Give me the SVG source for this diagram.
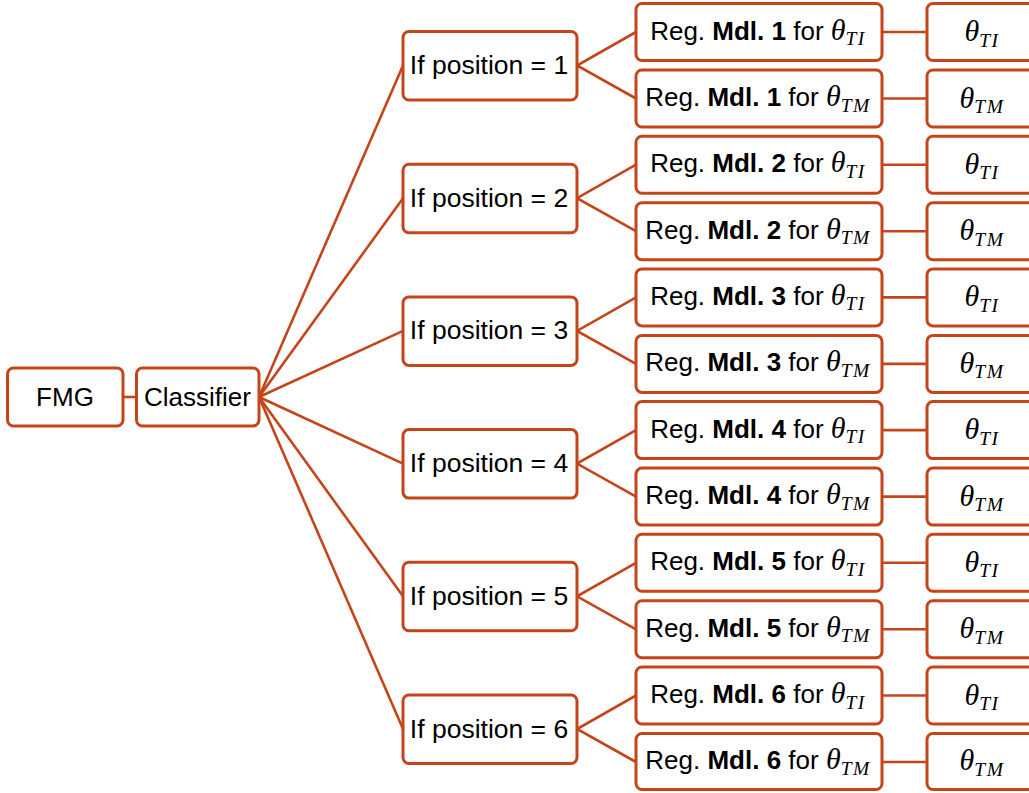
<svg xmlns="http://www.w3.org/2000/svg" width="1029" height="793" viewBox="0 0 1029 793">
<style>
.box{fill:#fff;stroke:#C5451B;stroke-width:3}
.ln{stroke:#C5451B;stroke-width:2.6;fill:none}
.t{font-family:"Liberation Sans",Arial,sans-serif;font-size:26px;fill:#000;text-anchor:middle}
.tp{font-size:26.5px}
.b{font-weight:bold}
.m{font-family:"Liberation Serif","Times New Roman",serif;font-style:italic}
.th{font-size:30px}
.sb{font-size:19.5px;letter-spacing:1.5px}
</style>
<rect width="1029" height="793" fill="#fff"/>
<g id="connectors">
<line class="ln" x1="123" y1="397" x2="136" y2="397"/>
<line class="ln" x1="259" y1="397" x2="403" y2="65.5"/>
<line class="ln" x1="259" y1="397" x2="403" y2="198.2"/>
<line class="ln" x1="259" y1="397" x2="403" y2="330.9"/>
<line class="ln" x1="259" y1="397" x2="403" y2="463.6"/>
<line class="ln" x1="259" y1="397" x2="403" y2="596.3"/>
<line class="ln" x1="259" y1="397" x2="403" y2="729"/>
<path class="ln" d="M636 32 L577 65.5 L636 98.5"/>
<path class="ln" d="M636 164.7 L577 198.2 L636 231.2"/>
<path class="ln" d="M636 297.4 L577 330.9 L636 363.9"/>
<path class="ln" d="M636 430.1 L577 463.6 L636 496.6"/>
<path class="ln" d="M636 562.8 L577 596.3 L636 629.3"/>
<path class="ln" d="M636 695.5 L577 729 L636 762"/>
<line class="ln" x1="882" y1="32" x2="927" y2="32"/>
<line class="ln" x1="882" y1="98.5" x2="927" y2="98.5"/>
<line class="ln" x1="882" y1="164.7" x2="927" y2="164.7"/>
<line class="ln" x1="882" y1="231.2" x2="927" y2="231.2"/>
<line class="ln" x1="882" y1="297.4" x2="927" y2="297.4"/>
<line class="ln" x1="882" y1="363.9" x2="927" y2="363.9"/>
<line class="ln" x1="882" y1="430.1" x2="927" y2="430.1"/>
<line class="ln" x1="882" y1="496.6" x2="927" y2="496.6"/>
<line class="ln" x1="882" y1="562.8" x2="927" y2="562.8"/>
<line class="ln" x1="882" y1="629.3" x2="927" y2="629.3"/>
<line class="ln" x1="882" y1="695.5" x2="927" y2="695.5"/>
<line class="ln" x1="882" y1="762" x2="927" y2="762"/>
</g>
<g id="fmg"><rect class="box" x="7.5" y="368" width="115.5" height="58" rx="6"/><text class="t" x="65" y="406">FMG</text></g>
<g id="classifier"><rect class="box" x="136.5" y="368" width="122.5" height="58" rx="6"/><text class="t" x="197.5" y="406">Classifier</text></g>

<g id="pos1"><rect class="box" x="403" y="31.5" width="174" height="68.5" rx="6"/><text class="t tp" x="489" y="74">If position = 1</text></g>
<g id="pos2"><rect class="box" x="403" y="164.2" width="174" height="68.5" rx="6"/><text class="t tp" x="489" y="206.7">If position = 2</text></g>
<g id="pos3"><rect class="box" x="403" y="296.9" width="174" height="68.5" rx="6"/><text class="t tp" x="489" y="339.4">If position = 3</text></g>
<g id="pos4"><rect class="box" x="403" y="429.6" width="174" height="68.5" rx="6"/><text class="t tp" x="489" y="472.1">If position = 4</text></g>
<g id="pos5"><rect class="box" x="403" y="562.3" width="174" height="68.5" rx="6"/><text class="t tp" x="489" y="604.8">If position = 5</text></g>
<g id="pos6"><rect class="box" x="403" y="695" width="174" height="68.5" rx="6"/><text class="t tp" x="489" y="737.5">If position = 6</text></g>

<g id="reg1ti"><rect class="box" x="636" y="3.5" width="246" height="57" rx="6"/><text class="t" x="758" y="39.5">Reg. <tspan class="b">Mdl. 1</tspan> for <tspan class="m th">θ</tspan><tspan class="m sb" dy="5.5">TI</tspan></text></g>
<g id="reg1tm"><rect class="box" x="636" y="70" width="246" height="57" rx="6"/><text class="t" x="758" y="106">Reg. <tspan class="b">Mdl. 1</tspan> for <tspan class="m th">θ</tspan><tspan class="m sb" dy="5.5">TM</tspan></text></g>
<g id="reg2ti"><rect class="box" x="636" y="136.2" width="246" height="57" rx="6"/><text class="t" x="758" y="172.2">Reg. <tspan class="b">Mdl. 2</tspan> for <tspan class="m th">θ</tspan><tspan class="m sb" dy="5.5">TI</tspan></text></g>
<g id="reg2tm"><rect class="box" x="636" y="202.7" width="246" height="57" rx="6"/><text class="t" x="758" y="238.7">Reg. <tspan class="b">Mdl. 2</tspan> for <tspan class="m th">θ</tspan><tspan class="m sb" dy="5.5">TM</tspan></text></g>
<g id="reg3ti"><rect class="box" x="636" y="268.9" width="246" height="57" rx="6"/><text class="t" x="758" y="304.9">Reg. <tspan class="b">Mdl. 3</tspan> for <tspan class="m th">θ</tspan><tspan class="m sb" dy="5.5">TI</tspan></text></g>
<g id="reg3tm"><rect class="box" x="636" y="335.4" width="246" height="57" rx="6"/><text class="t" x="758" y="371.4">Reg. <tspan class="b">Mdl. 3</tspan> for <tspan class="m th">θ</tspan><tspan class="m sb" dy="5.5">TM</tspan></text></g>
<g id="reg4ti"><rect class="box" x="636" y="401.6" width="246" height="57" rx="6"/><text class="t" x="758" y="437.6">Reg. <tspan class="b">Mdl. 4</tspan> for <tspan class="m th">θ</tspan><tspan class="m sb" dy="5.5">TI</tspan></text></g>
<g id="reg4tm"><rect class="box" x="636" y="468.1" width="246" height="57" rx="6"/><text class="t" x="758" y="504.1">Reg. <tspan class="b">Mdl. 4</tspan> for <tspan class="m th">θ</tspan><tspan class="m sb" dy="5.5">TM</tspan></text></g>
<g id="reg5ti"><rect class="box" x="636" y="534.3" width="246" height="57" rx="6"/><text class="t" x="758" y="570.3">Reg. <tspan class="b">Mdl. 5</tspan> for <tspan class="m th">θ</tspan><tspan class="m sb" dy="5.5">TI</tspan></text></g>
<g id="reg5tm"><rect class="box" x="636" y="600.8" width="246" height="57" rx="6"/><text class="t" x="758" y="636.8">Reg. <tspan class="b">Mdl. 5</tspan> for <tspan class="m th">θ</tspan><tspan class="m sb" dy="5.5">TM</tspan></text></g>
<g id="reg6ti"><rect class="box" x="636" y="667" width="246" height="57" rx="6"/><text class="t" x="758" y="703">Reg. <tspan class="b">Mdl. 6</tspan> for <tspan class="m th">θ</tspan><tspan class="m sb" dy="5.5">TI</tspan></text></g>
<g id="reg6tm"><rect class="box" x="636" y="733.5" width="246" height="56" rx="6"/><text class="t" x="758" y="769">Reg. <tspan class="b">Mdl. 6</tspan> for <tspan class="m th">θ</tspan><tspan class="m sb" dy="5.5">TM</tspan></text></g>

<g id="out1ti"><rect class="box" x="927" y="3.5" width="112" height="57" rx="6"/><text class="t" x="982" y="41"><tspan class="m th">θ</tspan><tspan class="m sb" dy="5.5">TI</tspan></text></g>
<g id="out1tm"><rect class="box" x="927" y="70" width="112" height="57" rx="6"/><text class="t" x="982" y="107.5"><tspan class="m th">θ</tspan><tspan class="m sb" dy="5.5">TM</tspan></text></g>
<g id="out2ti"><rect class="box" x="927" y="136.2" width="112" height="57" rx="6"/><text class="t" x="982" y="173.7"><tspan class="m th">θ</tspan><tspan class="m sb" dy="5.5">TI</tspan></text></g>
<g id="out2tm"><rect class="box" x="927" y="202.7" width="112" height="57" rx="6"/><text class="t" x="982" y="240.2"><tspan class="m th">θ</tspan><tspan class="m sb" dy="5.5">TM</tspan></text></g>
<g id="out3ti"><rect class="box" x="927" y="268.9" width="112" height="57" rx="6"/><text class="t" x="982" y="306.4"><tspan class="m th">θ</tspan><tspan class="m sb" dy="5.5">TI</tspan></text></g>
<g id="out3tm"><rect class="box" x="927" y="335.4" width="112" height="57" rx="6"/><text class="t" x="982" y="372.9"><tspan class="m th">θ</tspan><tspan class="m sb" dy="5.5">TM</tspan></text></g>
<g id="out4ti"><rect class="box" x="927" y="401.6" width="112" height="57" rx="6"/><text class="t" x="982" y="439.1"><tspan class="m th">θ</tspan><tspan class="m sb" dy="5.5">TI</tspan></text></g>
<g id="out4tm"><rect class="box" x="927" y="468.1" width="112" height="57" rx="6"/><text class="t" x="982" y="505.6"><tspan class="m th">θ</tspan><tspan class="m sb" dy="5.5">TM</tspan></text></g>
<g id="out5ti"><rect class="box" x="927" y="534.3" width="112" height="57" rx="6"/><text class="t" x="982" y="571.8"><tspan class="m th">θ</tspan><tspan class="m sb" dy="5.5">TI</tspan></text></g>
<g id="out5tm"><rect class="box" x="927" y="600.8" width="112" height="57" rx="6"/><text class="t" x="982" y="638.3"><tspan class="m th">θ</tspan><tspan class="m sb" dy="5.5">TM</tspan></text></g>
<g id="out6ti"><rect class="box" x="927" y="667" width="112" height="57" rx="6"/><text class="t" x="982" y="704.5"><tspan class="m th">θ</tspan><tspan class="m sb" dy="5.5">TI</tspan></text></g>
<g id="out6tm"><rect class="box" x="927" y="733.5" width="112" height="56" rx="6"/><text class="t" x="982" y="770"><tspan class="m th">θ</tspan><tspan class="m sb" dy="5.5">TM</tspan></text></g>
</svg>
